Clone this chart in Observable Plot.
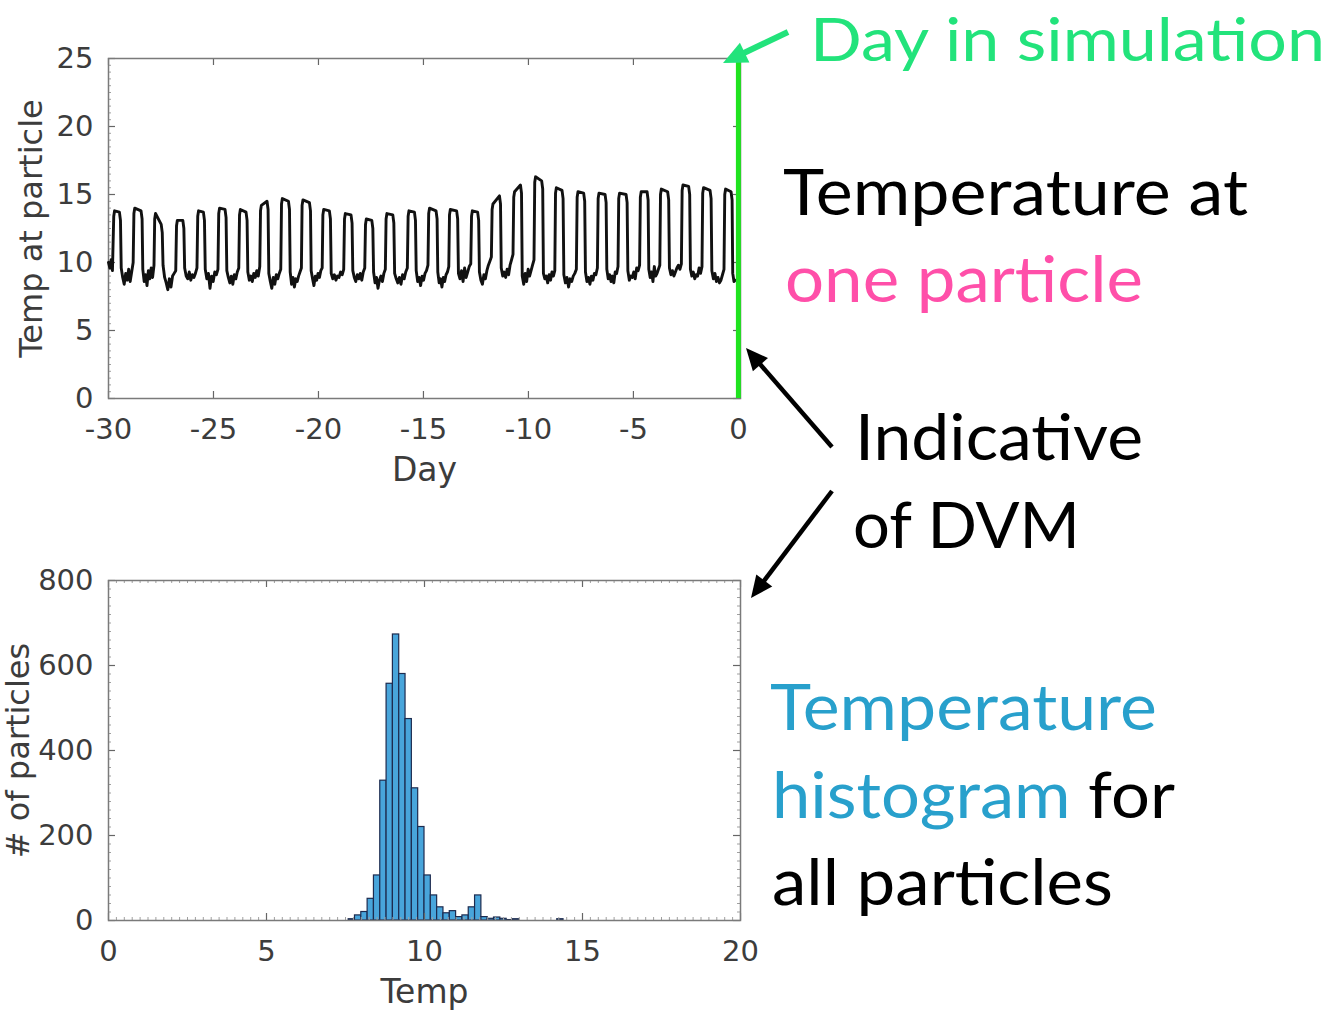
<!DOCTYPE html>
<html>
<head>
<meta charset="utf-8">
<script src="https://cdn.jsdelivr.net/npm/d3@7"></script>
<script src="https://cdn.jsdelivr.net/npm/@observablehq/plot@0.6"></script>
<style>
  html, body { margin: 0; padding: 0; background: #fff; }
  #wrap { position: relative; width: 1337px; height: 1013px; overflow: hidden; background: #fff; }
  #top, #bottom { position: absolute; left: 0; }
  #top { top: 0; }
  #bottom { top: 500px; }
  #notes { position: absolute; left: 0; top: 0; pointer-events: none; }
  #notes text { font-family: Lato, "Open Sans", sans-serif; font-size: 64px; }
</style>
</head>
<body>
<div id="wrap">
  <div id="top"></div>
  <div id="bottom"></div>
  <svg id="notes" width="1337" height="1013" viewBox="0 0 1337 1013">
    <text x="810" y="61" textLength="515" lengthAdjust="spacingAndGlyphs" fill="#22e37b" style="font-size:60px">Day in simulation</text>
    <text x="783" y="215" textLength="465" lengthAdjust="spacingAndGlyphs" fill="#000">Temperature at</text>
    <text x="785" y="302" textLength="358" lengthAdjust="spacingAndGlyphs" fill="#ff4fa9">one particle</text>
    <text x="855" y="460" textLength="288" lengthAdjust="spacingAndGlyphs" fill="#000">Indicative</text>
    <text x="853" y="548" textLength="227" lengthAdjust="spacingAndGlyphs" fill="#000">of DVM</text>
    <text x="770" y="730" textLength="387" lengthAdjust="spacingAndGlyphs" fill="#28a0cc">Temperature</text>
    <text x="772" y="818" textLength="403" lengthAdjust="spacingAndGlyphs"><tspan fill="#28a0cc">histogram</tspan><tspan fill="#000"> for</tspan></text>
    <text x="772" y="905" textLength="341" lengthAdjust="spacingAndGlyphs" fill="#000">all particles</text>
    <g id="arrows"></g>
  </svg>
</div>
<script>
// ---------- Top panel: temperature at one particle ----------
const xTicksTop = [-30, -25, -20, -15, -10, -5, 0];
const yTicksTop = [0, 5, 10, 15, 20, 25];

// day at which each nightly warm pulse starts / ends
const riseDay = [-29.75,-28.79,-27.80,-26.76,-25.75,-24.75,-23.76,-22.76,-21.76,-20.78,
                 -19.79,-18.76,-17.76,-16.78,-15.73,-14.75,-13.76,-12.71,-11.73,-10.70,
                 -9.70,-8.71,-7.68,-6.68,-5.70,-4.67,-3.71,-2.68,-1.70,-0.65];
const fallDay = [-29.43,-28.40,-27.44,-26.41,-25.43,-24.40,-23.40,-22.40,-21.38,-20.38,
                 -19.43,-18.40,-17.41,-16.41,-15.38,-14.35,-13.37,-12.37,-11.33,-10.33,
                 -9.32,-8.35,-7.32,-6.30,-5.30,-4.30,-3.32,-2.32,-1.30,-0.30];
const peakStart = [13.8,14.0,13.6,13.1,13.8,14.0,13.9,14.2,14.7,14.6,
                   13.9,13.6,13.2,13.6,13.8,14.0,13.9,13.8,14.3,15.2,
                   16.3,15.5,15.2,15.1,15.1,15.2,15.4,15.7,15.5,15.4];
const peakEnd   = [13.7,13.8,12.8,13.1,13.7,13.9,13.7,14.5,14.5,14.4,
                   13.8,13.5,13.1,13.5,13.7,13.8,13.8,13.7,14.9,15.7,
                   16.0,15.3,15.1,15.0,15.0,15.2,15.2,15.6,15.3,15.2];
// daytime (deep) temperatures: before the first pulse, then after each pulse
const troughs = [
  [10.0, 9.6, 10.2, 9.4],
  [9.6, 8.9, 8.4, 9.2, 8.7, 9.5, 8.6, 9.3, 10.0],
  [9.5, 8.6, 9.1, 8.3, 9.4, 8.8, 9.6, 8.9, 9.8],
  [9.8, 8.9, 8.5, 8.0, 8.8, 8.2, 9.0, 9.2, 9.4],
  [9.6, 9.0, 8.8, 9.3, 8.7, 9.1, 8.9, 9.2, 9.6],
  [9.5, 8.8, 9.2, 8.1, 9.0, 8.6, 9.3, 9.1, 9.5],
  [9.4, 8.9, 8.5, 9.0, 8.4, 9.1, 8.8, 9.3, 9.6],
  [9.3, 8.7, 9.0, 8.6, 9.2, 8.9, 9.4, 9.0, 9.7],
  [9.2, 8.6, 8.1, 8.9, 8.4, 9.1, 8.8, 9.2, 9.5],
  [9.3, 8.4, 8.9, 8.2, 8.8, 8.6, 9.0, 9.3, 9.6],
  [9.4, 8.8, 8.3, 9.0, 8.7, 9.2, 8.9, 9.4, 9.6],
  [9.2, 8.8, 9.1, 8.7, 9.0, 8.9, 9.3, 9.1, 9.5],
  [9.4, 8.9, 8.6, 9.1, 8.8, 9.2, 8.7, 9.3, 9.6],
  [9.3, 8.5, 8.9, 8.1, 8.7, 9.0, 8.6, 9.2, 9.5],
  [9.2, 8.8, 8.5, 8.9, 8.4, 9.1, 8.8, 9.3, 9.6],
  [9.4, 8.6, 8.9, 8.3, 9.0, 8.7, 9.2, 9.4, 9.8],
  [9.3, 8.5, 8.8, 8.2, 8.9, 8.6, 9.1, 9.3, 9.7],
  [9.2, 8.8, 9.4, 8.6, 9.6, 8.9, 9.3, 9.7, 9.9],
  [9.3, 8.7, 8.4, 9.1, 8.8, 9.4, 9.8, 10.1, 10.4],
  [9.6, 9.0, 9.3, 8.9, 9.5, 9.1, 9.8, 10.2, 10.6],
  [9.0, 8.4, 9.2, 8.6, 9.5, 9.0, 9.4, 9.8, 10.2],
  [9.2, 8.8, 9.0, 8.5, 9.1, 8.7, 9.3, 9.0, 9.4],
  [9.1, 8.5, 8.9, 8.2, 8.8, 8.6, 9.0, 9.2, 9.5],
  [9.3, 8.6, 8.9, 8.4, 9.0, 8.7, 9.2, 9.1, 9.6],
  [9.5, 8.8, 9.1, 8.6, 9.0, 8.5, 9.3, 9.2, 9.7],
  [9.4, 8.7, 9.0, 8.9, 9.3, 8.8, 9.6, 9.4, 9.8],
  [9.5, 8.9, 9.3, 8.6, 9.7, 9.0, 9.2, 9.5, 9.8],
  [9.6, 9.1, 9.4, 9.0, 9.3, 9.6, 9.8, 9.5, 9.9],
  [9.5, 9.0, 9.3, 8.8, 9.1, 9.0, 9.6, 9.2, 9.7],
  [9.4, 8.8, 9.2, 8.6, 8.9, 8.5, 8.7, 9.1, 9.5],
  [9.2, 8.6, 8.7]
];
const firstDay = -30, lastDay = -0.12;

// ---------- Bottom panel: histogram ----------
const xTicksHist = [0, 5, 10, 15, 20];
const yTicksHist = [0, 200, 400, 600, 800];
const binWidth = 0.2;
const binStart = [7.6,7.8,8.0,8.2,8.4,8.6,8.8,9.0,9.2,9.4,9.6,9.8,10.0,10.2,10.4,10.6,10.8,11.0,11.2,11.4,11.6,11.8,12.0,12.2,12.4,12.6,12.8,14.2];
const binCount = [3,12,20,51,106,329,557,673,580,474,311,220,106,59,31,17,22,8,12,31,59,8,4,7,4,1,3,3];

// ---------- assemble the series ----------
const series = [];
function addGap(a, b, vals, startAtA) {
  const n = vals.length;
  vals.forEach((v, j) => series.push({day: a + (b - a) * (startAtA ? j / n : (j + 0.5) / n), temp: v}));
}
addGap(firstDay, riseDay[0], troughs[0], true);
riseDay.forEach((r, i) => {
  const f = fallDay[i];
  series.push({day: r, temp: peakStart[i] - 0.4});
  series.push({day: r + 0.04, temp: peakStart[i]});
  series.push({day: f - 0.05, temp: peakEnd[i]});
  series.push({day: f, temp: peakEnd[i] - 0.6});
  const next = i + 1 < riseDay.length ? riseDay[i + 1] : lastDay;
  addGap(f, next, troughs[i + 1], false);
});
const hist = binStart.map((s, i) => ({x1: s, x2: s + binWidth, count: binCount[i]}));

const font = "DejaVu Sans";
const axisCol = "#3c3c3c";
const frameCol = "#7a7a7a";
const fmt = d => String(d);

function boxAxes(xT, yT, xMinor, yMinor, innerW, innerH, xLabel, yLabel, yLabelDx) {
  return [
    Plot.ruleY(yMinor, {stroke: "#a0a0a0", strokeWidth: 1, insetRight: innerW - 3}),
    Plot.ruleY(yMinor, {stroke: "#a0a0a0", strokeWidth: 1, insetLeft: innerW - 3}),
    Plot.ruleX(xMinor, {stroke: "#a0a0a0", strokeWidth: 1, insetTop: innerH - 3}),
    Plot.ruleX(xMinor, {stroke: "#a0a0a0", strokeWidth: 1, insetBottom: innerH - 3}),
    Plot.ruleX(xT, {stroke: "#666", strokeWidth: 1.2, insetTop: innerH - 7}),
    Plot.ruleX(xT, {stroke: "#666", strokeWidth: 1.2, insetBottom: innerH - 7}),
    Plot.ruleY(yT, {stroke: "#666", strokeWidth: 1.2, insetRight: innerW - 7}),
    Plot.ruleY(yT, {stroke: "#666", strokeWidth: 1.2, insetLeft: innerW - 7}),
    Plot.frame({stroke: frameCol, strokeWidth: 1.5}),
    Plot.axisX(xT, {anchor: "bottom", tickSize: 0, tickPadding: 20, tickFormat: fmt, fontSize: 29,
      fill: axisCol, label: null}),
    Plot.axisY(yT, {anchor: "left", tickSize: 0, tickPadding: 15, tickFormat: fmt, fontSize: 29,
      fill: axisCol, label: null}),
    Plot.text([xLabel], {frameAnchor: "bottom", dy: 72, lineAnchor: "middle", textAnchor: "middle", fontSize: 33, fill: axisCol}),
    Plot.text([yLabel], {frameAnchor: "left", dx: yLabelDx, rotate: -90, lineAnchor: "middle", textAnchor: "middle", fontSize: 32, fill: axisCol})
  ];
}

const topPlot = Plot.plot({
  width: 760, height: 500,
  marginLeft: 108, marginRight: 20, marginTop: 58, marginBottom: 102,
  x: {domain: [-30, 0.1]},
  y: {domain: [0, 25]},
  style: {fontFamily: font, background: "transparent", overflow: "visible"},
  marks: [
    ...boxAxes(xTicksTop, yTicksTop, [], d3.range(0, 25.01, 0.5), 632, 340, "Day", "Temp at particle", -77),
    Plot.line(series, {x: "day", y: "temp", stroke: "#111", strokeWidth: 2.9, strokeLinejoin: "round"}),
    Plot.ruleX([0], {stroke: "#1fe31f", strokeWidth: 5})
  ]
});
document.getElementById("top").appendChild(topPlot);

const bottomPlot = Plot.plot({
  width: 760, height: 513,
  marginLeft: 108, marginRight: 20, marginTop: 80, marginBottom: 93,
  x: {domain: [0, 20]},
  y: {domain: [0, 800]},
  style: {fontFamily: font, background: "transparent", overflow: "visible"},
  marks: [
    Plot.rectY(hist, {x1: "x1", x2: "x2", y: "count", fill: "#48a5db", stroke: "#1d2b4f", strokeWidth: 1.2}),
    ...boxAxes(xTicksHist, yTicksHist, d3.range(0, 20.01, 0.25), d3.range(0, 801, 20), 632, 340, "Temp", "# of particles", -90)
  ]
});
document.getElementById("bottom").appendChild(bottomPlot);

// ---------- annotation arrows ----------
const arrowSpecs = [
  {from: [788, 32], to: [723, 63], color: "#22e37b", w: 6, head: 24, half: 11},
  {from: [832, 447], to: [746, 348], color: "#000", w: 4.5, head: 22, half: 10},
  {from: [832, 491], to: [751, 598], color: "#000", w: 4.5, head: 22, half: 10}
];
const g = document.getElementById("arrows");
const NS = "http://www.w3.org/2000/svg";
arrowSpecs.forEach(a => {
  const [x1, y1] = a.from, [x2, y2] = a.to;
  const dx = x2 - x1, dy = y2 - y1, L = Math.hypot(dx, dy);
  const ux = dx / L, uy = dy / L, px = -uy, py = ux;
  const bx = x2 - ux * a.head, by = y2 - uy * a.head;
  const line = document.createElementNS(NS, "line");
  line.setAttribute("x1", x1); line.setAttribute("y1", y1);
  line.setAttribute("x2", bx + ux * 2); line.setAttribute("y2", by + uy * 2);
  line.setAttribute("stroke", a.color); line.setAttribute("stroke-width", a.w);
  g.appendChild(line);
  const poly = document.createElementNS(NS, "polygon");
  poly.setAttribute("points", `${x2},${y2} ${bx + px * a.half},${by + py * a.half} ${bx - px * a.half},${by - py * a.half}`);
  poly.setAttribute("fill", a.color);
  g.appendChild(poly);
});
</script>
</body>
</html>
